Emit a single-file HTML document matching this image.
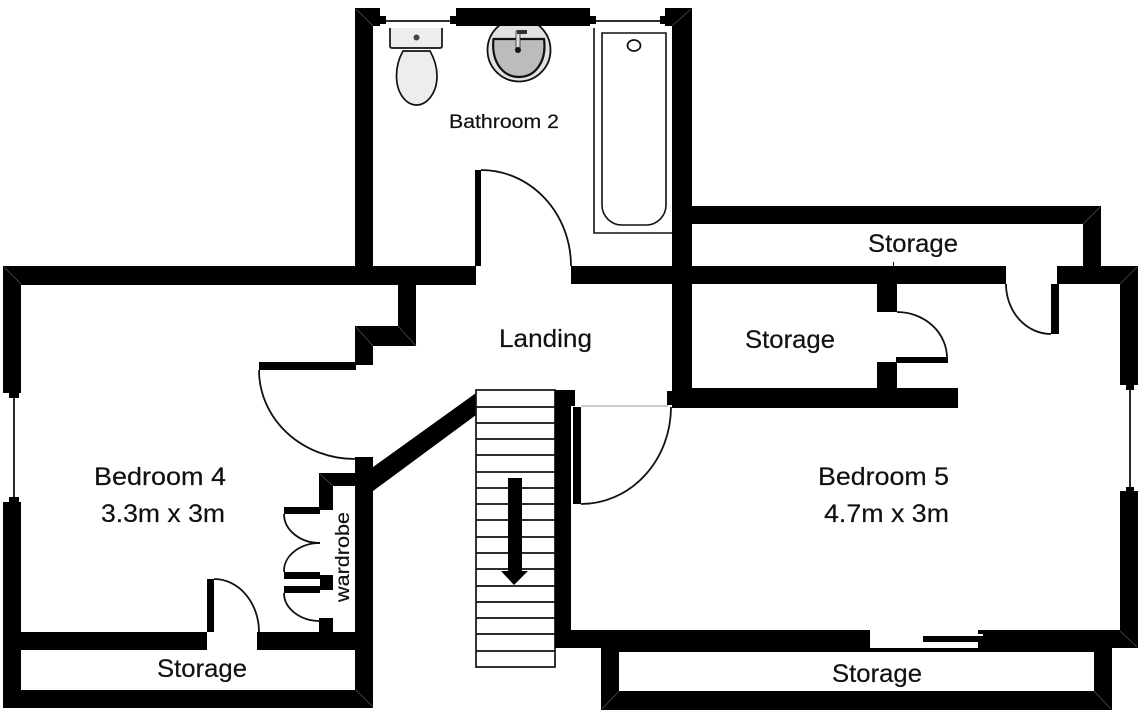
<!DOCTYPE html>
<html>
<head>
<meta charset="utf-8">
<style>
html,body{margin:0;padding:0;background:#fff;width:1144px;height:712px;overflow:hidden}
svg{display:block;filter:blur(0.35px)}
text{font-family:"Liberation Sans",sans-serif;fill:#111;stroke:#111;stroke-width:0.2px}
</style>
</head>
<body>
<svg width="1144" height="712" viewBox="0 0 1144 712" xmlns="http://www.w3.org/2000/svg">
<!-- walls -->
<g fill="#000">
<rect x="355" y="8" width="18" height="277"/>
<rect x="355" y="8" width="25" height="18"/>
<rect x="380" y="16" width="6" height="8"/>
<rect x="456" y="8" width="134" height="18"/>
<rect x="450" y="16" width="6" height="8"/>
<rect x="590" y="16" width="6" height="8"/>
<rect x="665" y="8" width="27" height="18"/>
<rect x="660" y="16" width="5" height="8"/>
<rect x="672" y="8" width="20" height="400"/>
<rect x="3" y="266" width="473" height="19"/>
<rect x="571" y="266" width="435" height="18"/>
<rect x="1057" y="266" width="81" height="18"/>
<rect x="692" y="206" width="409" height="18"/>
<rect x="1083" y="206" width="18" height="60"/>
<rect x="1120" y="266" width="18" height="119"/>
<rect x="1126" y="385" width="8" height="5"/>
<rect x="1120" y="491" width="18" height="157"/>
<rect x="1126" y="487" width="8" height="5"/>
<rect x="877" y="284" width="20" height="28"/>
<rect x="877" y="362" width="20" height="28"/>
<rect x="896" y="357" width="52" height="6"/>
<rect x="672" y="388" width="286" height="20"/>
<rect x="667" y="391" width="6" height="14"/>
<rect x="555" y="390" width="16" height="258"/>
<rect x="555" y="390" width="20" height="16"/>
<rect x="573" y="407" width="8" height="97"/>
<rect x="1051" y="284" width="8" height="50"/>
<rect x="475" y="170" width="6" height="96"/>
<rect x="398" y="285" width="18" height="61"/>
<rect x="355" y="326" width="61" height="20"/>
<rect x="355" y="326" width="18" height="39"/>
<rect x="259" y="362" width="97" height="8"/>
<rect x="355" y="457" width="18" height="251"/>
<polygon points="476,393 476,415 373,491 373,467"/>
<rect x="319" y="473" width="36" height="13"/>
<rect x="319" y="473" width="14" height="37"/>
<rect x="284" y="507" width="36" height="7"/>
<rect x="284" y="572" width="36" height="7"/>
<rect x="284" y="586" width="36" height="7"/>
<rect x="320" y="575" width="13" height="15"/>
<rect x="319" y="618" width="14" height="14"/>
<rect x="3" y="632" width="204" height="18"/>
<rect x="257" y="632" width="98" height="18"/>
<rect x="207" y="579" width="7" height="53"/>
<rect x="3" y="266" width="18" height="127"/>
<rect x="9" y="393" width="10" height="5"/>
<rect x="3" y="502" width="18" height="206"/>
<rect x="9" y="497" width="10" height="5"/>
<rect x="3" y="690" width="370" height="18"/>
<rect x="557" y="630" width="313" height="18"/>
<rect x="978" y="630" width="160" height="18"/>
<rect x="601" y="648" width="18" height="62"/>
<rect x="1094" y="648" width="18" height="62"/>
<rect x="601" y="691" width="511" height="19"/>
<rect x="601" y="647" width="511" height="5"/>
<rect x="893" y="262" width="1" height="4"/>
</g>
<rect x="870" y="630" width="108" height="18" fill="#fff"/>
<rect x="923" y="636" width="55" height="6" fill="#000"/>
<rect x="977" y="634" width="6" height="2" fill="#fff"/>
<!-- window lines -->
<g stroke="#111" stroke-width="1.8" fill="none">
<line x1="385" y1="21" x2="450" y2="21"/>
<line x1="596" y1="21" x2="660" y2="21"/>
<line x1="14" y1="398" x2="14" y2="497"/>
<line x1="1130" y1="390" x2="1130" y2="487"/>
</g>
<line x1="581" y1="406" x2="668" y2="406" stroke="#ccc" stroke-width="2"/>
<!-- door arcs -->
<g stroke="#111" stroke-width="1.8" fill="none">
<path d="M481,170 A90,96 0 0 1 571,266"/>
<path d="M897,312 A50,46 0 0 1 947,358"/>
<path d="M1006,284 A45,50 0 0 0 1051,334"/>
<path d="M581,504 A90,97 0 0 0 671,407"/>
<path d="M259,370 A96,89 0 0 0 355,459"/>
<path d="M214,579 A45,53 0 0 1 259,632"/>
<path d="M284,514 A36,29 0 0 0 320,543"/>
<path d="M320,543 A36,28 0 0 0 284,572"/>
<path d="M284,593 A36,28 0 0 0 320,621"/>
</g>
<!-- mitres -->
<g stroke="#555" stroke-width="0.7" fill="none">
<line x1="356" y1="9" x2="373" y2="26"/>
<line x1="691" y1="9" x2="672" y2="26"/>
<line x1="1100" y1="207" x2="1083" y2="224"/>
<line x1="1137" y1="267" x2="1120" y2="284"/>
<line x1="4" y1="267" x2="21" y2="284"/>
<line x1="356" y1="327" x2="373" y2="346"/>
<line x1="398" y1="326" x2="416" y2="346"/>
<line x1="556" y1="392" x2="570" y2="406"/>
<line x1="320" y1="474" x2="333" y2="486"/>
<line x1="356" y1="690" x2="373" y2="707"/>
<line x1="556" y1="648" x2="571" y2="631"/>
<line x1="602" y1="709" x2="619" y2="691"/>
<line x1="1111" y1="709" x2="1094" y2="691"/>
<line x1="1120" y1="631" x2="1137" y2="647"/>
</g>
<!-- stairs -->
<g fill="none" stroke="#111" stroke-width="1.7">
<rect x="476" y="390" width="79" height="277" fill="#fff"/>
<path d="M476,407H555M476,423H555M476,439H555M476,455H555M476,472H555M476,488H555M476,504H555M476,520H555M476,537H555M476,553H555M476,569H555M476,586H555M476,602H555M476,618H555M476,634H555M476,651H555"/>
</g>
<polygon points="508,478 522,478 522,571 528,571 514,585 501,571 508,571" fill="#000"/>
<rect x="555" y="390" width="16" height="258" fill="#000"/>
<!-- toilet -->
<path d="M390,28V46Q390,48 392,48H440Q442,48 442,46V28" fill="#ededed" stroke="#111" stroke-width="1.7"/>
<circle cx="416.5" cy="37.5" r="3" fill="#444"/>
<path d="M403,51H430C434,58 437,66 437,76C437,93 427,105 416.5,105C406,105 396.5,93 396.5,76C396.5,66 399,58 403,51Z" fill="#ededed" stroke="#111" stroke-width="1.7"/>
<!-- basin -->
<ellipse cx="519" cy="50" rx="31.5" ry="31.5" fill="#e2e2e2" stroke="#111" stroke-width="1.8"/>
<path d="M493.5,39 H544 C547,62 535,77 519,77 C503,77 491,62 493.5,39 Z" fill="#bcbcbc" stroke="#111" stroke-width="2.2"/>
<rect x="516" y="31" width="4" height="19" fill="#ddd" stroke="#333" stroke-width="0.8"/>
<rect x="517" y="30" width="10" height="4" fill="#333"/>
<circle cx="518" cy="50" r="3" fill="#111"/>
<rect x="456" y="8" width="134" height="18" fill="#000"/>
<!-- bath -->
<path d="M594,28V233H672" fill="none" stroke="#111" stroke-width="1.6"/>
<path d="M602,33H666V205A20,20 0 0 1 646,225H622A20,20 0 0 1 602,205Z" fill="#fff" stroke="#111" stroke-width="1.6"/>
<ellipse cx="634" cy="45.5" rx="6.5" ry="5.5" fill="#fff" stroke="#111" stroke-width="1.7"/>
<!-- labels -->
<text x="449" y="128" font-size="19" textLength="110" lengthAdjust="spacingAndGlyphs">Bathroom 2</text>
<text x="868" y="252" font-size="25" textLength="90" lengthAdjust="spacingAndGlyphs">Storage</text>
<text x="499" y="347" font-size="25" textLength="93" lengthAdjust="spacingAndGlyphs">Landing</text>
<text x="745" y="348" font-size="25" textLength="90" lengthAdjust="spacingAndGlyphs">Storage</text>
<text x="94" y="485" font-size="25" textLength="132" lengthAdjust="spacingAndGlyphs">Bedroom 4</text>
<text x="101" y="522" font-size="25" textLength="124" lengthAdjust="spacingAndGlyphs">3.3m x 3m</text>
<text x="818" y="485" font-size="25" textLength="131" lengthAdjust="spacingAndGlyphs">Bedroom 5</text>
<text x="824" y="522" font-size="25" textLength="125" lengthAdjust="spacingAndGlyphs">4.7m x 3m</text>
<text x="157" y="677" font-size="25" textLength="90" lengthAdjust="spacingAndGlyphs">Storage</text>
<text x="832" y="682" font-size="25" textLength="90" lengthAdjust="spacingAndGlyphs">Storage</text>
<text transform="translate(349,602) rotate(-90)" font-size="19" textLength="90" lengthAdjust="spacingAndGlyphs">wardrobe</text>
</svg>
</body>
</html>
